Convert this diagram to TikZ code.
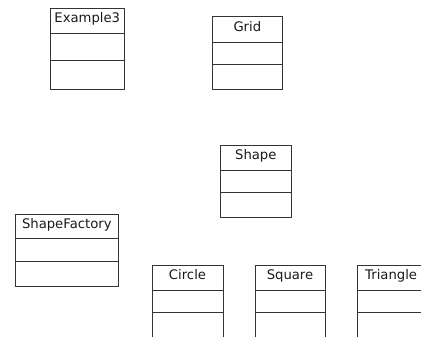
\documentclass[tikz,border=0pt]{standalone}
\usepackage{fontspec}
\setmainfont{DejaVu Sans}
\tikzset{
  classbox/.style={draw=black!80, line width=0.9pt, rectangle, inner sep=0pt, outer sep=0pt, anchor=north west},
  classline/.style={draw=black!80, line width=0.9pt},
  classtitle/.style={anchor=base, inner sep=0pt, font=\fontsize{13.2}{15}\selectfont, text=black!90}
}
% name, label, x1, ytop, x2, d1, d2, ybot
\newcommand\umlbox[8]{%
  \node[classbox, minimum width={(#5-#3)*1pt}, minimum height={(#8-#4)*1pt}] (#1) at (#3,#4) {};
  \draw[classline] (#3,#6) -- (#5,#6);
  \draw[classline] (#3,#7) -- (#5,#7);
  \node[classtitle] (#1-title) at ({(#3+#5)/2},{#4+14.5}) {#2};
}
\begin{document}
\begin{tikzpicture}[x=1pt,y=-1pt]
\useasboundingbox (0,0) rectangle (421,337);
\clip (0,0) rectangle (421,337);
\umlbox{example}{Example3}{50}{8.3}{124.5}{33.3}{60.3}{89}
\umlbox{grid}{Grid}{212}{16.7}{282.7}{42}{64.3}{89}
\umlbox{shape}{Shape}{220.3}{145.3}{291.3}{170.3}{192.3}{217.3}
\umlbox{factory}{ShapeFactory}{15.3}{214}{118.3}{238.3}{261.3}{286}
\umlbox{circle}{Circle}{152}{265.3}{223}{290.3}{312.7}{345}
\umlbox{square}{Square}{255}{265.3}{325}{290.3}{312.7}{345}
\umlbox{triangle}{Triangle}{357.3}{265.3}{425}{290.3}{312.7}{345}
\end{tikzpicture}
\end{document}
